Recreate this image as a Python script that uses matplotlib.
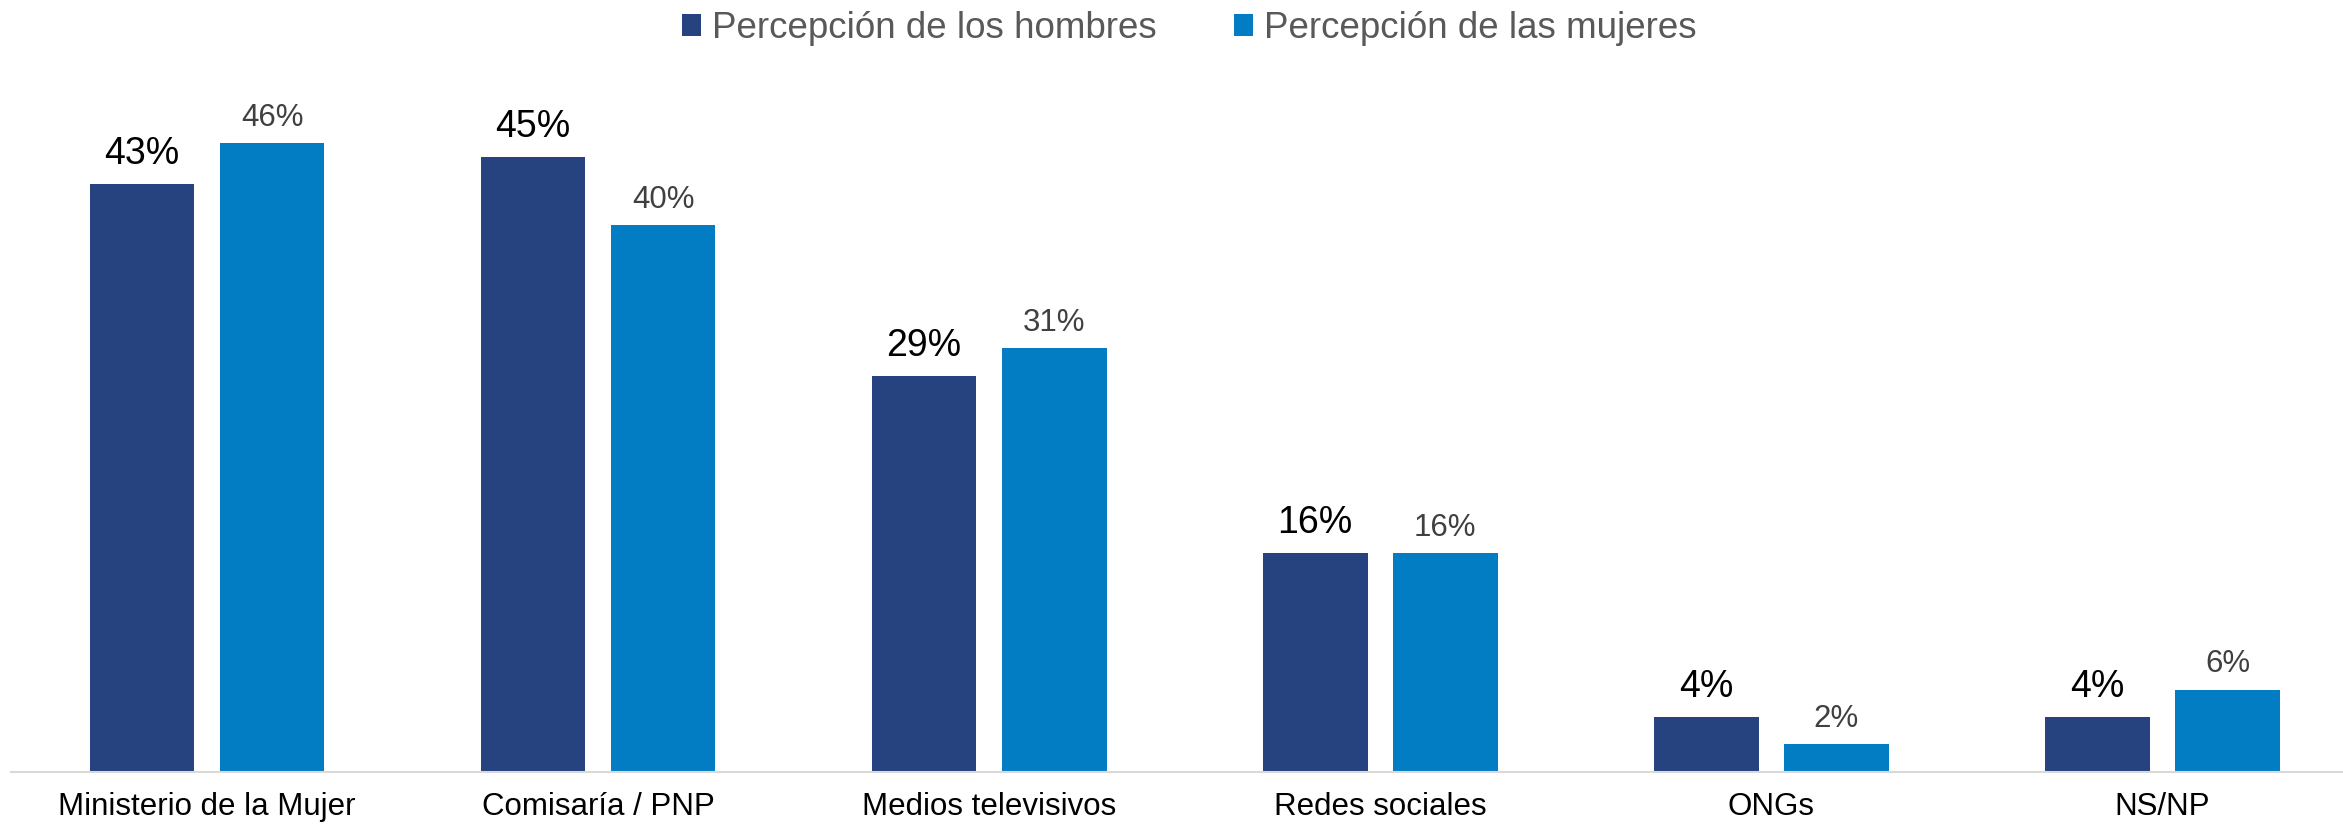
import matplotlib
matplotlib.use("Agg")
import matplotlib.pyplot as plt
from matplotlib.patches import Patch
import numpy as np

plt.rcParams['font.family'] = ['Liberation Sans', 'DejaVu Sans']

categories = ["Ministerio de la Mujer", "Comisaría / PNP", "Medios televisivos",
              "Redes sociales", "ONGs", "NS/NP"]
hombres = [43, 45, 29, 16, 4, 4]
mujeres = [46, 40, 31, 16, 2, 6]
series_names = ["Percepción de los hombres", "Percepción de las mujeres"]

c_dark = "#264380"
c_light = "#027CC2"

fig = plt.figure(figsize=(23.43, 8.27), dpi=100)
ax = fig.add_axes([0.0049, 0.0669, 1.0015, 0.8259])

x = np.arange(len(categories))
w = 0.2676
off = 0.1663
b1 = ax.bar(x - off, hombres, w, color=c_dark)
b2 = ax.bar(x + off, mujeres, w, color=c_light)

for rect, v in zip(b1, hombres):
    ax.annotate(f"{v}%", (rect.get_x() + rect.get_width() / 2, rect.get_height()),
                xytext=(0, 14.3), textcoords="offset points", ha="center", va="baseline",
                fontsize=27, color="black")
for rect, v in zip(b2, mujeres):
    ax.annotate(f"{v}%", (rect.get_x() + rect.get_width() / 2, rect.get_height()),
                xytext=(0, 12.4), textcoords="offset points", ha="center", va="baseline",
                fontsize=22.5, color="#404040")

ax.set_xlim(-0.5, 5.5)
ax.set_ylim(0, 50)
ax.set_xticks(x)
ax.set_xticklabels(categories, fontsize=22.5, color="black")
ax.tick_params(axis="x", length=0, pad=14.5)
ax.set_yticks([])
for s in ["top", "right", "left"]:
    ax.spines[s].set_visible(False)
ax.spines["bottom"].set_color("#d9d9d9")
ax.spines["bottom"].set_linewidth(1.5)

handles = [Patch(facecolor=c_dark), Patch(facecolor=c_light)]
leg = fig.legend(handles, series_names, loc="center", bbox_to_anchor=(0.5077, 0.966),
                 ncol=2, frameon=False, fontsize=26.5, handlelength=0.52, handleheight=0.55,
                 handletextpad=0.3, columnspacing=2.1, borderpad=0, borderaxespad=0)
for t in leg.get_texts():
    t.set_color("#595959")

fig.savefig("out.png", dpi=100)
